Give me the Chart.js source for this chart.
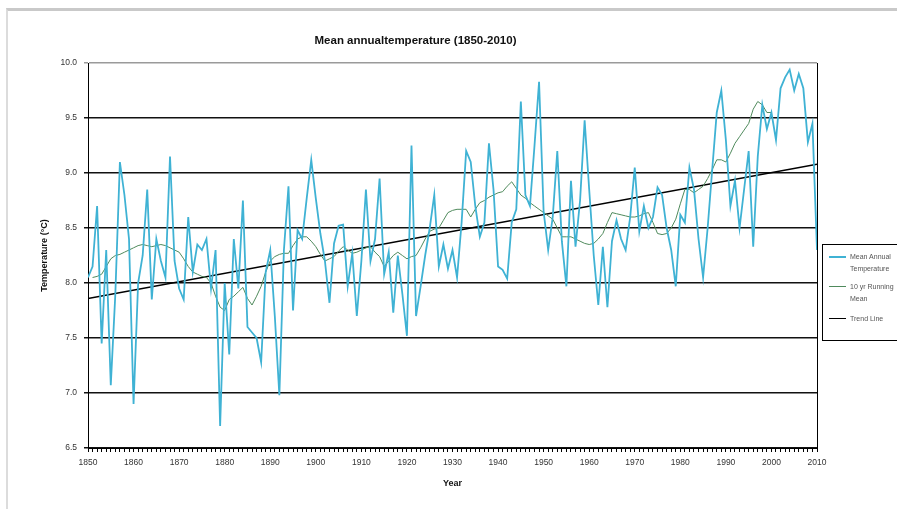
<!DOCTYPE html>
<html>
<head>
<meta charset="utf-8">
<script src="https://cdn.jsdelivr.net/npm/chart.js@4/dist/chart.umd.min.js"></script>
<style>
  html, body { margin: 0; padding: 0; background: #fff; overflow: hidden; }
  #wrap { position: relative; width: 897px; height: 509px; }
  #frame { position: absolute; left: 6px; top: 8px; right: 0; bottom: 0;
           border-top: 3px solid #c9c9c9; border-left: 2px solid #dcdcdc; }
  #legend { position: absolute; left: 822px; top: 244px; width: 110px; height: 95px;
            border: 1px solid #000; font-family: "Liberation Sans", Arial, sans-serif;
            font-size: 7px; color: #555; }
  .item { position: absolute; left: 6px; }
  .swatch { position: absolute; left: 0; width: 17px; height: 0; }
  .txt { position: absolute; left: 21px; top: -5px; line-height: 12px; white-space: nowrap; }
</style>
</head>
<body>
<div id="wrap">
  <div id="frame"></div>
  <canvas id="myChart" width="897" height="509"></canvas>
  <div id="legend">
    <div class="item" style="top:11px"><div class="swatch" style="border-top:2px solid #3fb2d4"></div><div class="txt">Mean Annual<br>Temperature</div></div>
    <div class="item" style="top:41px"><div class="swatch" style="border-top:1px solid #4f8a5c"></div><div class="txt">10 yr Running<br>Mean</div></div>
    <div class="item" style="top:73px"><div class="swatch" style="border-top:1px solid #000"></div><div class="txt">Trend Line</div></div>
  </div>
</div>
<script>
// annual mean temperature, 1850-2010
const annualTemp = [
  8.05, 8.15, 8.70, 7.45, 8.30, 7.07, 7.90, 9.10, 8.80, 8.40,
  6.90, 8.00, 8.25, 8.85, 7.85, 8.40, 8.20, 8.05, 9.15, 8.20,
  7.95, 7.85, 8.60, 8.10, 8.35, 8.30, 8.40, 7.95, 8.30, 6.70,
  8.00, 7.35, 8.40, 7.95, 8.75, 7.60, 7.55, 7.50, 7.28, 8.10,
  8.30, 7.70, 6.98, 8.30, 8.88, 7.75, 8.48, 8.40, 8.77, 9.12,
  8.77, 8.45, 8.20, 7.82, 8.36, 8.52, 8.53, 7.97, 8.27, 7.70,
  8.20, 8.85, 8.20, 8.40, 8.95, 8.08, 8.28, 7.73, 8.25, 7.90,
  7.52, 9.25, 7.70, 7.97, 8.25, 8.50, 8.80, 8.15, 8.35, 8.13,
  8.30, 8.05, 8.55, 9.20, 9.10, 8.70, 8.42, 8.55, 9.27, 8.85,
  8.15, 8.12, 8.04, 8.55, 8.67, 9.65, 8.80, 8.70, 9.25, 9.83,
  8.65, 8.30, 8.60, 9.20, 8.38, 7.97, 8.93, 8.33, 8.75, 9.48,
  8.85, 8.25, 7.80, 8.33, 7.78, 8.38, 8.57, 8.40, 8.30, 8.60,
  9.05, 8.47, 8.70, 8.50, 8.60, 8.87, 8.80, 8.50, 8.30, 7.97,
  8.62, 8.55, 9.05, 8.85, 8.40, 8.05, 8.50, 9.03, 9.55, 9.75,
  9.30, 8.70, 8.93, 8.50, 8.85, 9.20, 8.33, 9.15, 9.62, 9.40,
  9.55, 9.30, 9.77, 9.87, 9.94, 9.75, 9.90, 9.77, 9.28, 9.45,
  8.30
];
const firstYear = 1850;

// 10 yr running mean, 1851-2000
const runningMean = [
  8.05, 8.06, 8.08, 8.15, 8.22, 8.25, 8.26, 8.28, 8.30,
  8.32, 8.34, 8.35, 8.34, 8.33, 8.34, 8.35, 8.34, 8.32, 8.30,
  8.28, 8.22, 8.15, 8.10, 8.08, 8.06, 8.05, 8.00, 7.88, 7.78,
  7.75, 7.85, 7.88, 7.92, 7.96, 7.86, 7.80, 7.88, 7.97, 8.10,
  8.20, 8.24, 8.26, 8.27, 8.27, 8.34, 8.40, 8.42, 8.42, 8.38,
  8.33, 8.26, 8.20, 8.22, 8.24, 8.29, 8.33, 8.30, 8.27, 8.28,
  8.30, 8.32, 8.33, 8.28, 8.24, 8.15, 8.20, 8.25, 8.28, 8.25,
  8.22, 8.24, 8.25, 8.32, 8.40, 8.47, 8.49, 8.50, 8.57, 8.64,
  8.66, 8.67, 8.67, 8.67, 8.60, 8.67, 8.73, 8.75, 8.78, 8.80,
  8.82, 8.83, 8.88, 8.92, 8.86, 8.80, 8.77, 8.73, 8.70, 8.67,
  8.64, 8.61, 8.58, 8.50, 8.42, 8.42, 8.42, 8.40, 8.38, 8.36,
  8.35, 8.36, 8.40, 8.45, 8.55, 8.64, 8.63, 8.62, 8.61, 8.60,
  8.60, 8.61, 8.63, 8.64, 8.55, 8.45, 8.44, 8.45, 8.50, 8.58,
  8.72, 8.85, 8.85, 8.82, 8.85, 8.88, 8.95, 9.03, 9.12, 9.12,
  9.10, 9.18, 9.27, 9.33, 9.39, 9.45, 9.58, 9.65, 9.62, 9.55,
  9.55
];
const meanFirstYear = 1851;

// linear trend end points
const trendYears = [1850, 2010];
const trendTemp = [7.86, 9.08];

const yTicks = [6.5, 7.0, 7.5, 8.0, 8.5, 9.0, 9.5, 10.0];

const tickFont = { family: 'Liberation Sans', size: 8.5 };

// right edge of the plot box
const plotFrame = {
    id: 'plotFrame',
    afterDraw(chart) {
        const {ctx, chartArea: a} = chart;
        ctx.save();
        ctx.lineWidth = 1;
        ctx.strokeStyle = '#000';
        ctx.beginPath();
        ctx.moveTo(a.right + 0.5, a.top);
        ctx.lineTo(a.right + 0.5, a.bottom);
        ctx.stroke();
        ctx.restore();
    }
};

const ctx = document.getElementById('myChart');
new Chart(ctx, {
    type: 'line',
    data: {
        datasets: [
            {
                label: 'Mean Annual Temperature',
                data: annualTemp.map((t, i) => ({x: firstYear + i, y: t})),
                borderColor: '#3fb2d4',
                borderWidth: 1.8,
                pointRadius: 0,
                tension: 0
            },
            {
                label: '10 yr Running Mean',
                data: runningMean.map((t, i) => ({x: meanFirstYear + i, y: t})),
                borderColor: '#4f8a5c',
                borderWidth: 1,
                pointRadius: 0,
                tension: 0
            },
            {
                label: 'Trend Line',
                data: trendTemp.map((t, i) => ({x: trendYears[i], y: t})),
                borderColor: '#000',
                borderWidth: 1.5,
                pointRadius: 0
            }
        ]
    },
    options: {
        responsive: false,
        animation: false,
        layout: { padding: { left: 14, right: 80, top: 0, bottom: 16 } },
        plugins: {
            legend: { display: false },
            tooltip: { enabled: false },
            title: {
                display: true,
                text: 'Mean annualtemperature (1850-2010)',
                color: '#111',
                font: { family: 'Liberation Sans', size: 11.5, weight: 'bold' },
                padding: { top: 33.5, bottom: 15.7 }
            }
        },
        scales: {
            x: {
                type: 'linear',
                min: 1850,
                max: 2010,
                afterFit(scale) { scale.height = 45; },
                ticks: {
                    stepSize: 1,
                    autoSkip: false,
                    maxRotation: 0,
                    minRotation: 0,
                    padding: 6,
                    color: '#333',
                    font: tickFont,
                    callback: v => (v % 10 === 0 ? String(v) : '')
                },
                grid: { drawOnChartArea: false, tickLength: 4, color: '#000' },
                border: { display: true, color: '#000', width: 1 },
                title: {
                    display: true,
                    text: 'Year',
                    color: '#111',
                    font: { family: 'Liberation Sans', size: 9, weight: 'bold' },
                    padding: { top: 0, bottom: 4 }
                }
            },
            y: {
                min: 6.5,
                max: 10,
                afterFit(scale) { scale.width = 74; },
                afterBuildTicks(scale) { scale.ticks = yTicks.map(v => ({value: v})); },
                ticks: {
                    padding: 7,
                    color: '#333',
                    font: tickFont,
                    callback: v => v.toFixed(1)
                },
                grid: {
                    color: c => (c.tick && c.tick.value === 10 ? '#9a9a9a' : '#111'),
                    lineWidth: 1.5,
                    tickLength: 4
                },
                border: { display: true, color: '#000', width: 1 },
                title: {
                    display: true,
                    text: 'Temperature (°C)',
                    color: '#111',
                    font: { family: 'Liberation Sans', size: 9, weight: 'bold' },
                    padding: { top: 25.5, bottom: 0 }
                }
            }
        }
    },
    plugins: [plotFrame]
});
</script>
</body>
</html>
